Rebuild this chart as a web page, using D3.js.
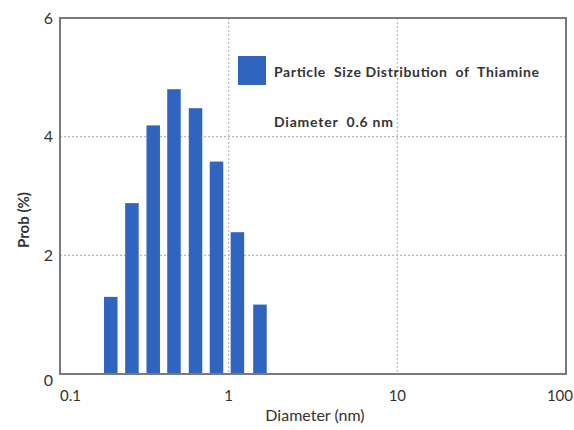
<!DOCTYPE html>
<html>
<head>
<meta charset="utf-8">
<script src="https://cdn.jsdelivr.net/npm/d3@7"></script>
<style>
  body { margin: 0; background: #fff; }
  text { font-family: Lato, "Open Sans", sans-serif; }
</style>
</head>
<body>
<div id="chart"></div>
<script>
// data
const diameters = [0.2, 0.267, 0.357, 0.474, 0.636, 0.847, 1.127, 1.533]
const probs = [1.30, 2.88, 4.19, 4.80, 4.48, 3.58, 2.39, 1.17]
const xTicks = [0.1, 1, 10, 100]
const xTickLabels = ["0.1", "1", "10", "100"]
const yTicks = [0, 2, 4, 6]
const legendLines = ["Particle  Size Distribution  of  Thiamine", "Diameter  0.6 nm"]
const legendWidths = [265, 119]

const width = 574, height = 430
const plotL = 60, plotR = 566, plotT = 18, plotB = 374
const barColor = "#2f65bf"

const svg = d3.select("#chart")
    .append("svg")
    .attr("width", width)
    .attr("height", height)

const x = d3.scaleLog().domain([0.1, 100]).range([plotL, plotR])
const y = d3.scaleLinear().domain([0, 6]).range([plotB, plotT])

// grid lines
svg.append("g")
    .selectAll("line")
    .data([2, 4])
    .join("line")
    .attr("x1", plotL)
    .attr("x2", plotR)
    .attr("y1", d => y(d))
    .attr("y2", d => y(d))
    .attr("stroke", "#b8b8b8")
    .attr("stroke-width", 1.2)
    .attr("stroke-dasharray", "2,2")

svg.append("g")
    .selectAll("line")
    .data([1, 10])
    .join("line")
    .attr("x1", d => x(d))
    .attr("x2", d => x(d))
    .attr("y1", plotT)
    .attr("y2", plotB)
    .attr("stroke", "#b8b8b8")
    .attr("stroke-width", 1.2)
    .attr("stroke-dasharray", "2,2")

// bars
const barW = 13.5
svg.append("g")
    .selectAll("rect")
    .data(diameters)
    .join("rect")
    .attr("x", d => x(d) - barW / 2)
    .attr("y", (d, i) => y(probs[i]))
    .attr("width", barW)
    .attr("height", (d, i) => y(0) - y(probs[i]))
    .attr("fill", barColor)

// frame
svg.append("rect")
    .attr("x", plotL)
    .attr("y", plotT)
    .attr("width", plotR - plotL)
    .attr("height", plotB - plotT)
    .attr("fill", "none")
    .attr("stroke", "#7a7a7a")
    .attr("stroke-width", 2)

// y tick labels
svg.append("g")
    .selectAll("text")
    .data(yTicks)
    .join("text")
    .attr("x", 53)
    .attr("y", d => y(d) + (d === 0 ? 6 : 0))
    .attr("dy", "0.35em")
    .attr("text-anchor", "end")
    .attr("font-size", 16)
    .attr("fill", "#333")
    .text(d => d)

// x tick labels
svg.append("g")
    .selectAll("text")
    .data(xTicks)
    .join("text")
    .attr("x", d => x(d))
    .attr("y", 401)
    .attr("text-anchor", (d, i) => i === 0 ? "start" : i === xTicks.length - 1 ? "end" : "middle")
    .attr("dx", (d, i) => i === xTicks.length - 1 ? 7 : 0)
    .attr("font-size", 15)
    .attr("fill", "#333")
    .text((d, i) => xTickLabels[i])

// axis titles
svg.append("text")
    .attr("x", 315)
    .attr("y", 421)
    .attr("text-anchor", "middle")
    .attr("font-size", 16)
    .attr("fill", "#333")
    .text("Diameter (nm)")

svg.append("text")
    .attr("transform", "translate(29,220) rotate(-90)")
    .attr("text-anchor", "middle")
    .attr("font-size", 15)
    .attr("font-weight", "bold")
    .attr("fill", "#333")
    .text("Prob (%)")

// legend
svg.append("rect")
    .attr("x", 238)
    .attr("y", 56)
    .attr("width", 28)
    .attr("height", 29)
    .attr("fill", barColor)

svg.append("g")
    .selectAll("text")
    .data(legendLines)
    .join("text")
    .attr("x", 274)
    .attr("y", (d, i) => 77 + i * 50)
    .attr("font-size", 14)
    .attr("font-weight", "bold")
    .attr("fill", "#333")
    .attr("textLength", (d, i) => legendWidths[i])
    .attr("lengthAdjust", "spacing")
    .style("white-space", "pre")
    .text(d => d)
</script>
</body>
</html>
